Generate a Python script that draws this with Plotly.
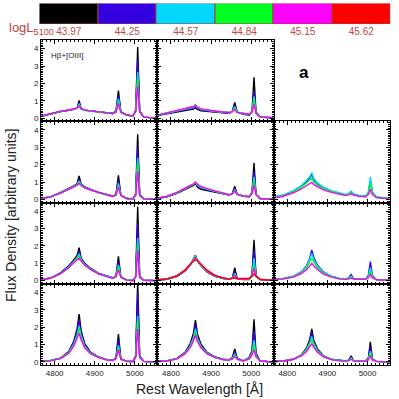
import plotly.graph_objects as go
from plotly.subplots import make_subplots

# shared wavelength grid (Angstrom)
wl = [4765, 4790, 4815, 4835, 4848, 4856, 4861, 4866, 4875, 4890, 4910, 4930,
      4945, 4953, 4959, 4965, 4980, 4995, 5002, 5007, 5012, 5022, 5040, 5055]

lum_labels = ["43.97", "44.25", "44.57", "44.84", "45.15", "45.62"]
lum_colors = ["#000000", "#3300e0", "#00d8ff", "#00ff22", "#ff00ff", "#ff0000"]

# row 1
p11_k = [0.10,0.25,0.38,0.45,0.50,0.58,1.02,0.55,0.46,0.42,0.38,0.31,0.27,0.40,1.58,0.38,0.18,0.12,0.45,4.10,0.42,0.06,0.02,0.00]
p11_b = [0.10,0.25,0.38,0.45,0.50,0.57,0.90,0.54,0.46,0.42,0.38,0.31,0.27,0.38,1.32,0.36,0.17,0.12,0.42,3.35,0.40,0.06,0.02,0.00]
p11_c = [0.11,0.26,0.39,0.46,0.51,0.57,0.82,0.54,0.46,0.42,0.37,0.30,0.26,0.36,1.12,0.35,0.17,0.12,0.40,2.65,0.38,0.06,0.02,0.00]
p11_g = [0.11,0.26,0.39,0.46,0.51,0.57,0.76,0.53,0.44,0.40,0.35,0.29,0.25,0.35,0.98,0.34,0.16,0.12,0.38,2.25,0.36,0.06,0.02,0.00]
p11_m = [0.12,0.27,0.40,0.47,0.52,0.57,0.70,0.54,0.46,0.42,0.37,0.30,0.26,0.34,0.85,0.33,0.17,0.12,0.36,1.85,0.35,0.06,0.02,0.00]

p12_k = [0.15,0.25,0.35,0.42,0.48,0.52,0.60,0.50,0.42,0.38,0.34,0.30,0.28,0.40,0.90,0.35,0.22,0.18,0.40,2.35,0.35,0.08,0.03,0.02]
p12_b = [0.15,0.27,0.38,0.47,0.54,0.58,0.66,0.56,0.46,0.40,0.36,0.32,0.30,0.38,0.75,0.35,0.24,0.20,0.38,1.55,0.32,0.08,0.04,0.02]
p12_c = [0.16,0.28,0.40,0.50,0.58,0.62,0.72,0.60,0.50,0.43,0.38,0.34,0.31,0.38,0.65,0.35,0.25,0.21,0.36,1.25,0.30,0.08,0.04,0.02]
p12_g = [0.17,0.29,0.42,0.53,0.62,0.66,0.78,0.64,0.52,0.45,0.40,0.35,0.32,0.38,0.60,0.34,0.26,0.22,0.35,1.05,0.30,0.08,0.04,0.02]
p12_m = [0.17,0.30,0.43,0.54,0.62,0.67,0.75,0.64,0.53,0.46,0.41,0.35,0.32,0.37,0.50,0.33,0.26,0.22,0.33,0.80,0.28,0.08,0.04,0.02]

# row 2
p21_k = [0.05,0.15,0.40,0.62,0.78,0.90,1.35,0.88,0.72,0.58,0.40,0.28,0.18,0.30,1.38,0.25,0.05,0.03,0.30,3.75,0.30,0.03,0.01,0.00]
p21_b = [0.05,0.15,0.38,0.60,0.76,0.88,1.18,0.86,0.70,0.56,0.39,0.27,0.18,0.28,1.10,0.24,0.05,0.03,0.28,3.00,0.28,0.03,0.01,0.00]
p21_c = [0.05,0.15,0.37,0.58,0.74,0.85,1.05,0.84,0.68,0.55,0.39,0.27,0.17,0.27,0.92,0.23,0.05,0.03,0.26,2.40,0.26,0.03,0.01,0.00]
p21_g = [0.05,0.14,0.37,0.57,0.73,0.84,1.00,0.82,0.67,0.55,0.38,0.26,0.17,0.26,0.82,0.23,0.05,0.03,0.24,2.05,0.24,0.03,0.01,0.00]
p21_m = [0.05,0.14,0.36,0.56,0.72,0.82,0.92,0.80,0.66,0.54,0.38,0.26,0.17,0.25,0.72,0.22,0.05,0.03,0.22,1.62,0.22,0.03,0.01,0.00]

p22_k = [0.05,0.15,0.35,0.55,0.70,0.80,0.92,0.70,0.58,0.52,0.42,0.32,0.25,0.35,0.75,0.30,0.18,0.15,0.40,2.10,0.30,0.05,0.02,0.01]
p22_b = [0.05,0.16,0.37,0.58,0.74,0.84,0.95,0.78,0.64,0.55,0.44,0.33,0.26,0.33,0.62,0.30,0.19,0.16,0.37,1.60,0.28,0.05,0.02,0.01]
p22_c = [0.06,0.17,0.38,0.60,0.77,0.87,0.97,0.82,0.68,0.58,0.46,0.34,0.26,0.33,0.55,0.29,0.19,0.16,0.35,1.30,0.28,0.05,0.02,0.01]
p22_g = [0.06,0.17,0.39,0.61,0.78,0.88,0.98,0.85,0.71,0.60,0.47,0.35,0.27,0.32,0.50,0.29,0.20,0.17,0.34,1.05,0.27,0.05,0.02,0.01]
p22_m = [0.06,0.18,0.40,0.62,0.80,0.90,1.00,0.88,0.74,0.62,0.48,0.35,0.27,0.32,0.48,0.29,0.20,0.17,0.33,0.82,0.27,0.05,0.02,0.01]

p23_b = [0.12,0.24,0.48,0.76,1.04,1.22,1.45,1.12,0.90,0.66,0.47,0.33,0.26,0.32,0.42,0.30,0.20,0.18,0.36,1.10,0.40,0.12,0.06,0.04]
p23_c = [0.12,0.25,0.50,0.80,1.10,1.30,1.55,1.20,0.95,0.70,0.50,0.35,0.28,0.35,0.48,0.32,0.22,0.20,0.40,1.30,0.45,0.15,0.08,0.05]
p23_g = [0.10,0.22,0.45,0.70,0.95,1.10,1.22,1.00,0.82,0.62,0.45,0.32,0.25,0.30,0.38,0.28,0.19,0.17,0.32,0.92,0.35,0.12,0.06,0.04]
p23_m = [0.08,0.18,0.38,0.60,0.80,0.90,0.98,0.85,0.72,0.55,0.40,0.28,0.22,0.26,0.32,0.25,0.17,0.15,0.28,0.58,0.28,0.10,0.05,0.03]

# row 3
p31_k = [0.05,0.15,0.45,0.85,1.20,1.45,1.90,1.30,1.00,0.70,0.42,0.25,0.15,0.28,1.40,0.22,0.03,0.01,0.25,4.25,0.25,0.02,0.00,0.00]
p31_b = [0.05,0.15,0.44,0.82,1.15,1.38,1.70,1.25,0.96,0.68,0.41,0.24,0.15,0.26,1.10,0.21,0.03,0.01,0.23,3.30,0.23,0.02,0.00,0.00]
p31_c = [0.05,0.14,0.42,0.78,1.10,1.32,1.55,1.20,0.93,0.66,0.40,0.24,0.15,0.24,0.90,0.20,0.03,0.01,0.21,2.45,0.21,0.02,0.00,0.00]
p31_g = [0.05,0.14,0.41,0.76,1.07,1.28,1.45,1.16,0.90,0.65,0.39,0.23,0.14,0.23,0.78,0.20,0.03,0.01,0.20,2.00,0.20,0.02,0.00,0.00]
p31_m = [0.05,0.14,0.40,0.74,1.04,1.22,1.30,1.12,0.88,0.63,0.38,0.23,0.14,0.22,0.62,0.19,0.03,0.01,0.19,1.75,0.19,0.02,0.00,0.00]

p32_k = [0.03,0.08,0.25,0.55,0.90,1.20,1.45,1.15,0.85,0.50,0.25,0.12,0.08,0.15,0.75,0.12,0.06,0.06,0.35,2.35,0.30,0.06,0.03,0.02]
p32_b = [0.03,0.08,0.25,0.56,0.92,1.22,1.45,1.17,0.87,0.52,0.26,0.13,0.09,0.14,0.55,0.12,0.07,0.07,0.32,1.75,0.28,0.06,0.03,0.02]
p32_c = [0.04,0.09,0.26,0.57,0.93,1.22,1.42,1.17,0.88,0.53,0.27,0.14,0.09,0.14,0.42,0.12,0.07,0.08,0.30,1.30,0.26,0.06,0.03,0.02]
p32_g = [0.04,0.09,0.27,0.58,0.93,1.20,1.38,1.16,0.89,0.54,0.28,0.14,0.10,0.14,0.35,0.12,0.08,0.09,0.28,0.90,0.24,0.07,0.03,0.02]
p32_m = [0.04,0.10,0.27,0.58,0.92,1.18,1.32,1.15,0.90,0.55,0.28,0.15,0.10,0.13,0.30,0.12,0.08,0.10,0.27,0.70,0.24,0.07,0.03,0.02]
p32_r = [0.05,0.10,0.28,0.62,0.95,1.12,1.20,1.15,0.95,0.60,0.30,0.16,0.10,0.12,0.15,0.12,0.10,0.12,0.25,0.38,0.25,0.08,0.04,0.03]

p33_b = [0.08,0.12,0.25,0.50,0.85,1.30,1.75,1.35,0.90,0.50,0.25,0.12,0.10,0.15,0.35,0.12,0.08,0.10,0.30,1.10,0.30,0.06,0.05,0.05]
p33_c = [0.08,0.12,0.24,0.48,0.80,1.20,1.55,1.22,0.84,0.47,0.24,0.12,0.09,0.13,0.25,0.11,0.07,0.09,0.24,0.75,0.24,0.06,0.05,0.05]
p33_g = [0.07,0.11,0.22,0.44,0.72,1.05,1.30,1.06,0.75,0.43,0.22,0.11,0.08,0.11,0.20,0.10,0.07,0.08,0.20,0.52,0.20,0.05,0.04,0.04]
p33_m = [0.06,0.10,0.20,0.40,0.62,0.85,1.00,0.86,0.64,0.38,0.20,0.10,0.07,0.10,0.15,0.09,0.06,0.07,0.16,0.35,0.16,0.05,0.04,0.04]

# row 4
p41_k = [0.03,0.08,0.22,0.60,1.20,1.90,2.75,1.80,1.05,0.55,0.28,0.13,0.09,0.25,1.60,0.18,0.03,0.02,0.35,4.60,0.35,0.03,0.01,0.00]
p41_b = [0.03,0.08,0.21,0.57,1.13,1.75,2.45,1.68,0.99,0.52,0.27,0.13,0.09,0.23,1.25,0.17,0.03,0.02,0.32,4.00,0.32,0.03,0.01,0.00]
p41_c = [0.03,0.08,0.20,0.53,1.04,1.55,2.05,1.50,0.90,0.50,0.26,0.12,0.08,0.21,0.95,0.16,0.03,0.02,0.28,2.65,0.28,0.03,0.01,0.00]
p41_g = [0.03,0.08,0.20,0.51,0.98,1.45,1.90,1.40,0.86,0.48,0.25,0.12,0.08,0.20,0.85,0.15,0.03,0.02,0.26,2.35,0.26,0.03,0.01,0.00]
p41_m = [0.03,0.07,0.19,0.48,0.92,1.32,1.65,1.28,0.81,0.46,0.24,0.11,0.08,0.18,0.70,0.14,0.03,0.02,0.24,1.90,0.24,0.03,0.01,0.00]

p42_k = [0.02,0.06,0.20,0.55,1.05,1.65,2.40,1.60,1.00,0.55,0.28,0.15,0.12,0.25,0.75,0.22,0.06,0.25,0.65,2.45,0.50,0.06,0.02,0.01]
p42_b = [0.02,0.06,0.19,0.52,0.98,1.50,2.15,1.45,0.92,0.52,0.27,0.14,0.11,0.22,0.60,0.20,0.06,0.23,0.58,1.80,0.42,0.06,0.02,0.01]
p42_c = [0.02,0.06,0.18,0.50,0.92,1.38,1.90,1.35,0.87,0.50,0.26,0.14,0.11,0.20,0.45,0.18,0.06,0.20,0.50,1.25,0.36,0.06,0.02,0.01]
p42_g = [0.02,0.06,0.18,0.48,0.88,1.30,1.75,1.28,0.84,0.48,0.25,0.13,0.10,0.18,0.40,0.17,0.05,0.18,0.45,1.00,0.32,0.06,0.02,0.01]
p42_m = [0.02,0.05,0.17,0.46,0.82,1.20,1.55,1.18,0.80,0.46,0.24,0.13,0.10,0.16,0.32,0.15,0.05,0.16,0.40,0.70,0.28,0.05,0.02,0.01]

p43_k = [0.02,0.05,0.15,0.40,0.80,1.30,1.90,1.25,0.75,0.35,0.15,0.07,0.05,0.10,0.35,0.08,0.04,0.06,0.20,1.15,0.18,0.03,0.01,0.01]
p43_b = [0.02,0.05,0.15,0.38,0.75,1.20,1.70,1.15,0.70,0.33,0.14,0.07,0.05,0.09,0.28,0.07,0.04,0.06,0.18,0.90,0.16,0.03,0.01,0.01]
p43_c = [0.02,0.05,0.16,0.38,0.72,1.10,1.45,1.05,0.66,0.32,0.14,0.07,0.05,0.08,0.22,0.07,0.04,0.05,0.15,0.62,0.14,0.03,0.01,0.01]
p43_g = [0.02,0.05,0.16,0.37,0.68,1.02,1.30,0.98,0.62,0.31,0.14,0.07,0.05,0.08,0.18,0.06,0.04,0.05,0.13,0.50,0.12,0.03,0.01,0.01]
p43_m = [0.02,0.05,0.15,0.34,0.60,0.88,1.05,0.85,0.56,0.29,0.13,0.06,0.04,0.07,0.15,0.06,0.04,0.05,0.11,0.35,0.10,0.03,0.01,0.01]

# which curves (colour index, flux) go in each panel
panels = {
    (1, 1): [(0, p11_k), (1, p11_b), (2, p11_c), (3, p11_g), (4, p11_m)],
    (1, 2): [(0, p12_k), (1, p12_b), (2, p12_c), (3, p12_g), (4, p12_m)],
    (2, 1): [(0, p21_k), (1, p21_b), (2, p21_c), (3, p21_g), (4, p21_m)],
    (2, 2): [(0, p22_k), (1, p22_b), (2, p22_c), (3, p22_g), (4, p22_m)],
    (2, 3): [(1, p23_b), (2, p23_c), (3, p23_g), (4, p23_m)],
    (3, 1): [(0, p31_k), (1, p31_b), (2, p31_c), (3, p31_g), (4, p31_m)],
    (3, 2): [(0, p32_k), (1, p32_b), (2, p32_c), (3, p32_g), (4, p32_m), (5, p32_r)],
    (3, 3): [(1, p33_b), (2, p33_c), (3, p33_g), (4, p33_m)],
    (4, 1): [(0, p41_k), (1, p41_b), (2, p41_c), (3, p41_g), (4, p41_m)],
    (4, 2): [(0, p42_k), (1, p42_b), (2, p42_c), (3, p42_g), (4, p42_m)],
    (4, 3): [(0, p43_k), (1, p43_b), (2, p43_c), (3, p43_g), (4, p43_m)],
}

W = H = 399
def px(v):
    return v / W
def py(v):
    return 1 - v / H

left, right, top, bottom = 41, 390, 40, 365
cw = (right - left) / 3
rh = (bottom - top) / 4

fig = make_subplots(rows=4, cols=3, horizontal_spacing=0, vertical_spacing=0)

for (r, c), curves in panels.items():
    for ci, flux in curves:
        fig.add_trace(go.Scatter(x=wl, y=flux, mode="lines",
                                 line=dict(color=lum_colors[ci], width=1.4),
                                 showlegend=False, hoverinfo="skip"),
                      row=r, col=c)

tickfont = dict(family="Liberation Sans, Arial", size=8, color="#222")
for r in range(1, 5):
    for c in range(1, 4):
        xdom = [px(left + (c - 1) * cw), px(left + c * cw)]
        ydom = [py(top + r * rh), py(top + (r - 1) * rh)]
        if (r, c) == (1, 3):
            fig.update_xaxes(visible=False, domain=xdom, row=r, col=c)
            fig.update_yaxes(visible=False, domain=ydom, row=r, col=c)
            continue
        fig.update_xaxes(domain=xdom, range=[4766, 5056], dtick=100, tick0=4800,
                         ticks="inside", ticklen=4, tickcolor="black",
                         showline=True, linecolor="black", linewidth=1,
                         mirror="allticks", showgrid=False, zeroline=False,
                         showticklabels=(r == 4), tickfont=tickfont, automargin=False,
                         minor=dict(ticks="inside", ticklen=2, dtick=10, tickcolor="black"),
                         row=r, col=c)
        fig.update_yaxes(domain=ydom, range=[-0.18, 4.5], dtick=1, tick0=0,
                         ticks="inside", ticklen=4, tickcolor="black",
                         showline=True, linecolor="black", linewidth=1,
                         mirror="allticks", showgrid=False, zeroline=False,
                         showticklabels=(c == 1), tickfont=tickfont, automargin=False,
                         minor=dict(ticks="inside", ticklen=2, dtick=0.1, tickcolor="black"),
                         row=r, col=c)

# luminosity colour key drawn as a bar strip
fig.add_trace(go.Bar(x=lum_labels, y=[1] * len(lum_labels), width=1,
                     marker=dict(color=lum_colors, line=dict(color="#a04040", width=1)),
                     showlegend=False, hoverinfo="skip", xaxis="x13", yaxis="y13"))
fig.update_layout(
    xaxis13=dict(domain=[px(39.5), px(390.5)], anchor="y13", type="category",
                 range=[-0.5, 5.5], showgrid=False, showline=False, ticks="",
                 automargin=False,
                 tickfont=dict(family="Liberation Sans, Arial", size=10, color="#c04848")),
    yaxis13=dict(domain=[py(24), py(3.5)], anchor="x13", range=[0, 1], visible=False),
)

fig.add_annotation(text="logL<sub>5100</sub>", xref="paper", yref="paper",
                   x=px(7), y=py(28), xanchor="left", yanchor="middle", showarrow=False,
                   font=dict(family="Liberation Sans, Arial", size=13, color="#c04040"))
fig.add_annotation(text="<b>a</b>", xref="paper", yref="paper",
                   x=px(304), y=py(73), xanchor="center", yanchor="middle", showarrow=False,
                   font=dict(family="Liberation Sans, Arial", size=17, color="black"))
fig.add_annotation(text="Hβ+[OIII]", xref="paper", yref="paper",
                   x=px(49), y=py(55), xanchor="left", yanchor="middle", showarrow=False,
                   font=dict(family="Liberation Sans, Arial", size=8, color="#222"))
fig.add_annotation(text="Flux Density [arbitrary units]", xref="paper", yref="paper",
                   x=px(1), y=py(215), xanchor="left", yanchor="middle", textangle=-90,
                   showarrow=False,
                   font=dict(family="Liberation Sans, Arial", size=14, color="#222"))
fig.add_annotation(text="Rest Wavelength [Å]", xref="paper", yref="paper",
                   x=px(199), y=py(399), xanchor="center", yanchor="bottom", showarrow=False,
                   font=dict(family="Liberation Sans, Arial", size=14, color="#222"))

fig.update_layout(width=W, height=H, margin=dict(l=0, r=0, t=0, b=0, autoexpand=False),
                  plot_bgcolor="white", paper_bgcolor="white", bargap=0)

# drop the default page margin so the 399px figure fills the window
fig.write_html("out.html", config={"displayModeBar": False},
               post_script="document.body.style.margin='0px';")
